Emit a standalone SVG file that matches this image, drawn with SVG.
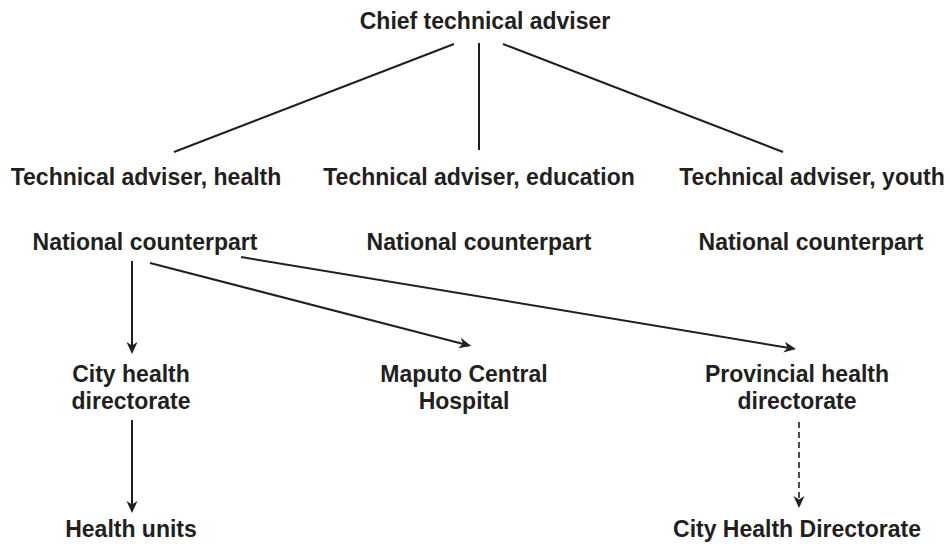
<svg xmlns="http://www.w3.org/2000/svg" width="950" height="544" viewBox="0 0 950 544">
<style>
  text { font-family: "Liberation Sans", Arial, sans-serif; font-size: 23px; font-weight: bold; fill: #231f20; text-anchor: middle; }
  .ln { stroke: #231f20; stroke-width: 2; fill: none; }
  .dash { stroke: #231f20; stroke-width: 1.6; fill: none; stroke-dasharray: 6 4; }
</style>
<defs>
  <marker id="arr" markerUnits="userSpaceOnUse" markerWidth="12" markerHeight="12" viewBox="0 0 12 12" refX="10" refY="6" orient="auto">
    <path d="M0,0.5 L12,6 L0,11.5 L3.5,6 Z" fill="#231f20"/>
  </marker>
</defs>
<rect width="950" height="544" fill="#ffffff"/>
<g id="chief"><text x="485" y="29">Chief technical adviser</text></g>
<g id="ta-health"><text x="146" y="185">Technical adviser, health</text></g>
<g id="ta-education"><text x="479" y="185">Technical adviser, education</text></g>
<g id="ta-youth"><text x="812" y="185">Technical adviser, youth</text></g>
<g id="nc-health"><text x="145" y="250">National counterpart</text></g>
<g id="nc-education"><text x="479" y="250">National counterpart</text></g>
<g id="nc-youth"><text x="811" y="250">National counterpart</text></g>
<g id="city-health"><text x="131" y="382">City health</text><text x="131" y="409">directorate</text></g>
<g id="maputo"><text x="464" y="382">Maputo Central</text><text x="464" y="409">Hospital</text></g>
<g id="provincial"><text x="797" y="382">Provincial health</text><text x="797" y="409">directorate</text></g>
<g id="health-units"><text x="131" y="537">Health units</text></g>
<g id="city-hd"><text x="797" y="537">City Health Directorate</text></g>
<g id="connectors">
  <line class="ln" x1="454" y1="44" x2="174" y2="152"/>
  <line class="ln" x1="479" y1="43" x2="479" y2="150"/>
  <line class="ln" x1="503" y1="44" x2="783" y2="152"/>
  <line class="ln" x1="132" y1="261" x2="132" y2="352" marker-end="url(#arr)"/>
  <line class="ln" x1="150" y1="263" x2="469.2" y2="345.5" marker-end="url(#arr)"/>
  <line class="ln" x1="241" y1="257" x2="794" y2="348.7" marker-end="url(#arr)"/>
  <line class="ln" x1="132" y1="420" x2="132" y2="511" marker-end="url(#arr)"/>
  <line class="dash" x1="799" y1="422" x2="799" y2="506" marker-end="url(#arr)"/>
</g>
</svg>
